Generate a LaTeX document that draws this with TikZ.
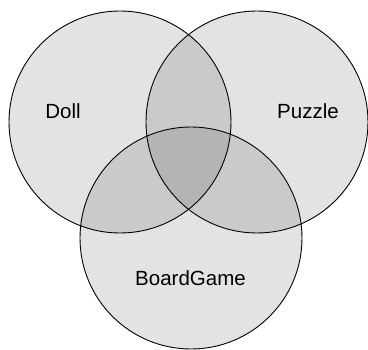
\documentclass[tikz,border=0pt]{standalone}
\usepackage{fontspec}
\setmainfont{Liberation Sans}
\usetikzlibrary{positioning}
\definecolor{SetShade}{HTML}{000000}
\definecolor{SetEdge}{HTML}{000000}

\tikzset{
  setcircle/.style={draw=SetEdge, line width=0.9pt, fill=SetShade, fill opacity=0.11},
  setlabel/.style={font=\fontsize{20.5}{24}\selectfont, text=black, inner sep=0pt}
}

\begin{document}
\begin{tikzpicture}[x=1pt, y=-1pt]
  \useasboundingbox (0,0) rectangle (368,350);

  % Three overlapping sets
  \draw[setcircle] (120,122) circle (111pt);
  \draw[setcircle] (257,122) circle (111pt);
  \draw[setcircle] (191,238) circle (111pt);

  % Set names
  \node[setlabel, anchor=base] (doll) at (63,119) {Doll};
  \node[setlabel, anchor=base] (puzzle) at (308,119) {Puzzle};
  \node[setlabel, anchor=base] (boardgame) at (190.5,286) {BoardGame};
\end{tikzpicture}
\end{document}
